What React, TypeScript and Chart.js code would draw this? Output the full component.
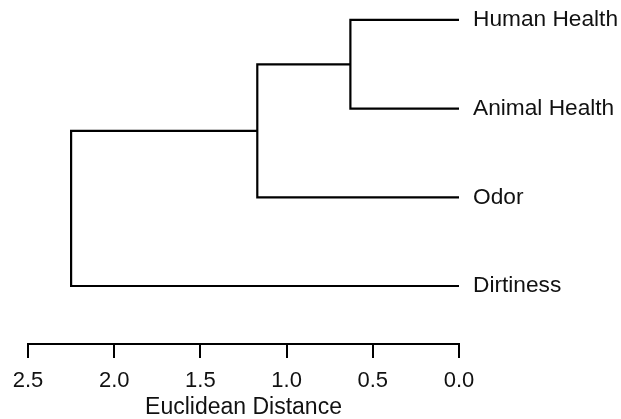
import React, { useEffect, useRef } from 'react';
import { Chart, registerables } from 'chart.js';

Chart.register(...registerables);

// Leaves (top to bottom) and their vertical slots
const leafLabels = ['Human Health', 'Animal Health', 'Odor', 'Dirtiness'];
const leafPositions = [4, 3, 2, 1];
// Linkage: node ids 0..3 are leaves, 4.. are merges in order
const mergeLeft = [0, 4, 5];
const mergeRight = [1, 2, 3];
const mergeHeights = [0.63, 1.17, 2.25];
// Axis ticks
const distanceTicks = [0, 0.5, 1, 1.5, 2, 2.5];

function buildLinks() {
  const nodeX: number[] = leafLabels.map(() => 0);
  const nodeY: number[] = [...leafPositions];
  const links: { x: number; y: number }[][] = [];
  mergeHeights.forEach((h, i) => {
    const a = mergeLeft[i];
    const b = mergeRight[i];
    links.push([
      { x: nodeX[a], y: nodeY[a] },
      { x: h, y: nodeY[a] },
      { x: h, y: nodeY[b] },
      { x: nodeX[b], y: nodeY[b] },
    ]);
    nodeX.push(h);
    nodeY.push((nodeY[a] + nodeY[b]) / 2);
  });
  return links;
}

const FONT = 'Liberation Sans, Arial, Helvetica, sans-serif';

export default function App() {
  const ref = useRef<HTMLCanvasElement>(null);

  useEffect(() => {
    if (!ref.current) return;
    const links = buildLinks();
    const chart = new Chart(ref.current, {
      type: 'scatter',
      data: {
        datasets: links.map((pts) => ({
          data: pts,
          showLine: true,
          borderColor: '#000',
          borderWidth: 2.2,
          pointRadius: 0,
          pointHoverRadius: 0,
          tension: 0,
          borderJoinStyle: 'miter' as const,
          borderCapStyle: 'butt' as const,
          clip: false as any,
          fill: false,
        })),
      },
      options: {
        animation: false,
        responsive: false,
        maintainAspectRatio: false,
        events: [],
        layout: { padding: { left: 28, top: 8, right: 0, bottom: 0 } },
        plugins: {
          legend: { display: false },
          tooltip: { enabled: false },
        },
        scales: {
          x: {
            type: 'linear',
            position: 'bottom',
            reverse: true,
            min: 0,
            max: 2.5,
            afterBuildTicks: (scale: any) => {
              scale.ticks = distanceTicks.map((v) => ({ value: v }));
            },
            afterFit: (scale: any) => {
              scale.height = 75;
            },
            ticks: {
              padding: 10,
              color: '#111',
              font: { family: FONT, size: 22 },
              maxRotation: 0,
              callback: (v: any) => Number(v).toFixed(1),
            },
            grid: {
              drawOnChartArea: false,
              drawTicks: true,
              tickLength: 14,
              color: '#000',
              lineWidth: 2,
            },
            border: { display: true, color: '#000', width: 2 },
            title: {
              display: true,
              text: 'Euclidean Distance',
              color: '#111',
              font: { family: FONT, size: 23, lineHeight: 1 },
              padding: { top: 0, bottom: 0 },
            },
          },
          y: {
            type: 'linear',
            position: 'right',
            min: 0.346,
            max: 4.135,
            afterBuildTicks: (scale: any) => {
              scale.ticks = leafPositions.map((v) => ({ value: v }));
            },
            afterFit: (scale: any) => {
              scale.width = 162;
              scale.paddingTop = 0;
              scale.paddingBottom = 0;
            },
            ticks: {
              padding: 14,
              color: '#111',
              font: { family: FONT, size: 22.7 },
              callback: (v: any) => {
                const i = leafPositions.indexOf(Number(v));
                return i >= 0 ? leafLabels[i] : '';
              },
            },
            grid: { display: false, drawTicks: false },
            border: { display: false },
          },
        },
      },
    });
    return () => chart.destroy();
  }, []);

  return (
    <div style={{ position: 'absolute', left: 0, top: 0, width: 621, height: 419, background: '#fff' }}>
      <canvas ref={ref} width={621} height={419} style={{ display: 'block' }} />
    </div>
  );
}
